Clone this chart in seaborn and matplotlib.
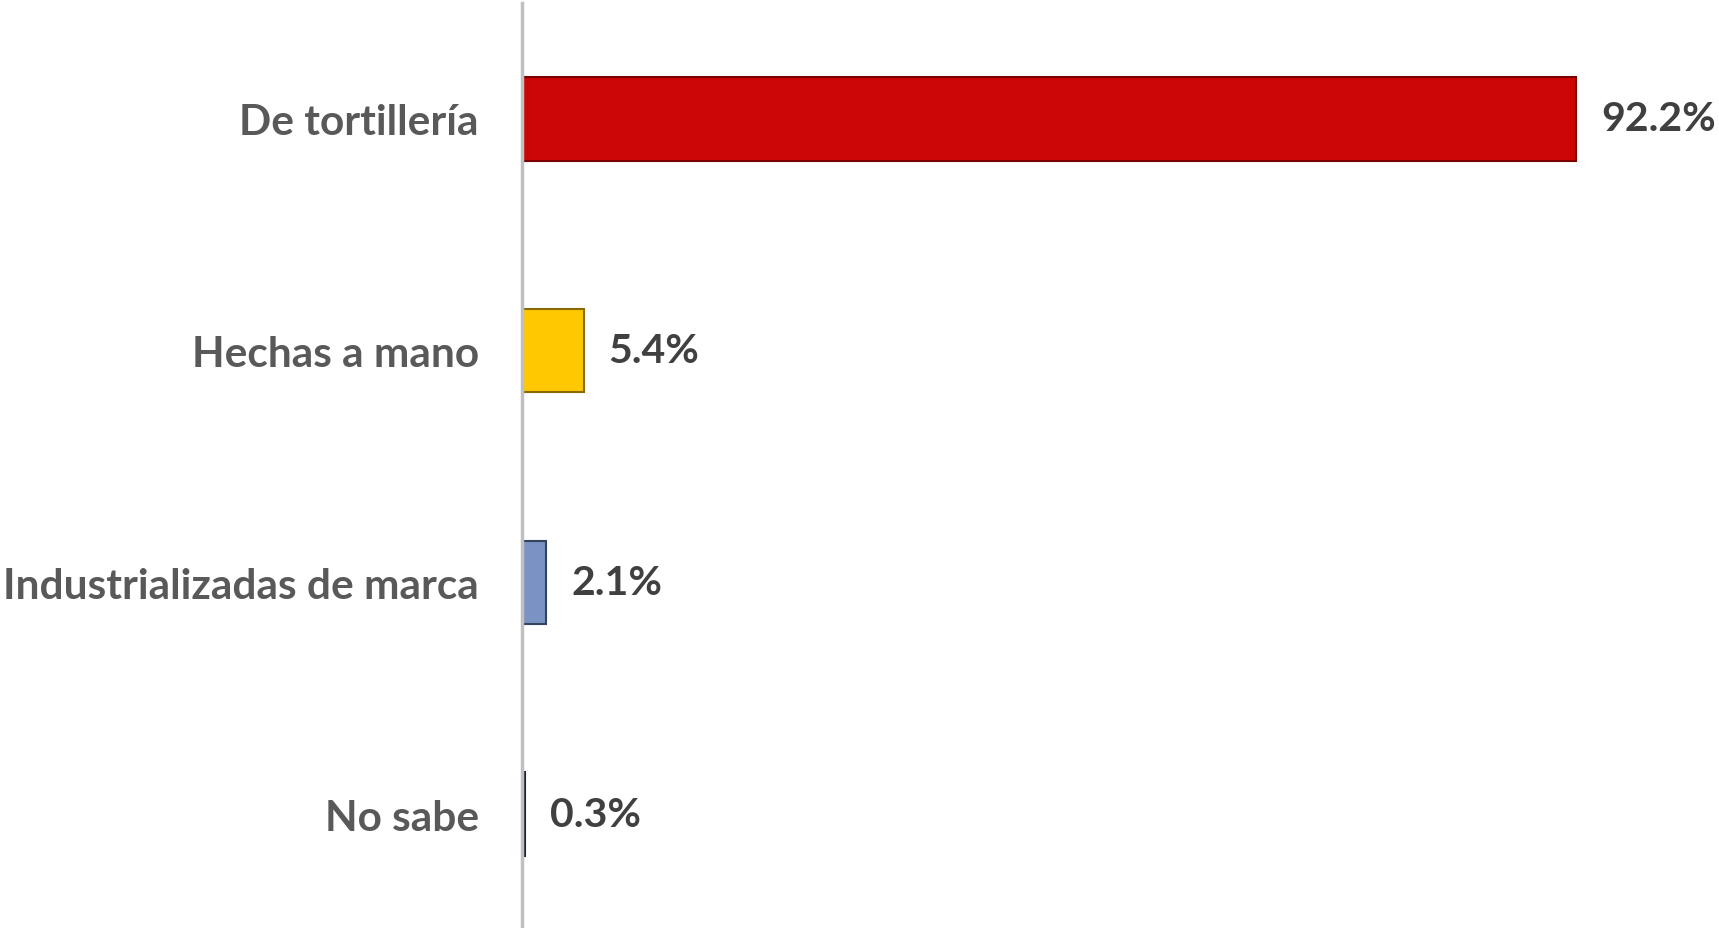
import pandas as pd
import matplotlib.pyplot as plt
import seaborn as sns

categories = ['De tortillería', 'Hechas a mano', 'Industrializadas de marca', 'No sabe']
values = [92.2, 5.4, 2.1, 0.3]
colors = ['#cc0606', '#ffc800', '#7b93c4', '#2e3a5c']
edge_colors = ['#7a0000', '#8a6a00', '#33425f', '#1c2438']

df = pd.DataFrame({'Tipo': categories, 'Porcentaje': values})

sns.set_style('white')
plt.rcParams['font.family'] = ['Lato', 'DejaVu Sans']

fig = plt.figure(figsize=(17.19, 9.29), dpi=100)
ax = fig.add_axes([522 / 1719, -2 / 929, 1 - 522 / 1719, 927 / 929])

sns.barplot(data=df, x='Porcentaje', y='Tipo', hue='Tipo', palette=colors,
            saturation=1, orient='h', width=0.36, legend=False, ax=ax)

for patch, ec in zip(ax.patches, edge_colors):
    patch.set_edgecolor(ec)
    patch.set_linewidth(1.5)

# value labels to the right of each bar
for cont in ax.containers:
    ax.bar_label(cont, fmt='%.1f%%', padding=18, fontsize=29.5, fontweight='bold',
                 color='#404040')

ax.set_xlim(0, 104.7)
ax.set_xlabel('')
ax.set_ylabel('')
ax.set_xticks([])
ax.tick_params(axis='y', length=0, pad=31, labelsize=30.5, labelcolor='#595959')
for lbl in ax.get_yticklabels():
    lbl.set_fontweight('bold')

for side in ['top', 'right', 'bottom']:
    ax.spines[side].set_visible(False)
ax.spines['left'].set_color('#c0c0c0')
ax.spines['left'].set_linewidth(2.5)

fig.savefig('out.png', dpi=100)
